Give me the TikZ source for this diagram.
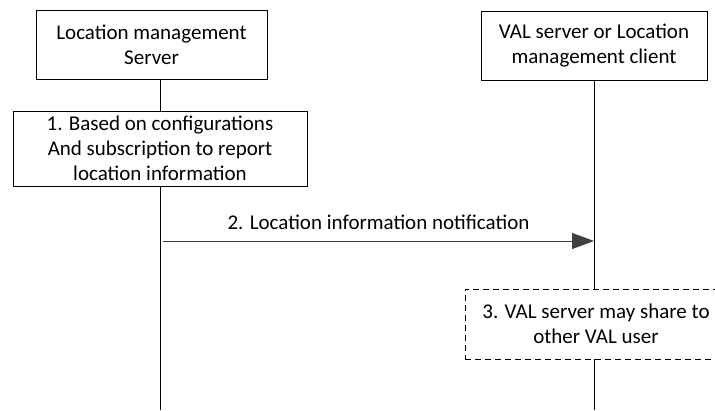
\documentclass[tikz,border=0pt]{standalone}
\usepackage{fontspec}
\setmainfont{Carlito}
\usetikzlibrary{positioning, arrows.meta}
\tikzset{
    x=1pt, y=-1pt, % one unit is one pixel of the reference, y runs down
    every node/.style={font=\fontsize{21}{25}\selectfont, align=center},
    entity/.style={draw, fill=white, minimum height=69pt, inner sep=0pt}, % the two parties on top
    action/.style={draw, fill=white, minimum height=75pt, inner sep=0pt}, % step box on a lifeline
    option/.style={draw, dashed, dash pattern=on 6pt off 4pt, fill=white, minimum height=70pt, inner sep=0pt}, % optional step
    lifeline/.style={draw, line width=0.9pt},
    msg/.style={draw=black!75, line width=0.9pt, -{Triangle[length=22pt, width=16pt]}}, % message arrow
}
\begin{document}
\begin{tikzpicture}
    \useasboundingbox (0,0) rectangle (715,410);
    \clip (0,0) rectangle (715,410);
    \node[entity, minimum width=231pt] (lms) at (151.5,44.5) {Location management\\Server};
    \node[entity, minimum width=226pt] (client) at (594,45.5) {VAL server or Location\\management client};
    \coordinate (lmsend) at (160,410);
    \coordinate (clientend) at (594,410);
    % lifelines
    \draw[lifeline] (lms.south -| lmsend) -- (lmsend);
    \draw[lifeline] (client.south) -- (clientend);
    \node[action, minimum width=294pt] (step1) at (160,148.5) {1. Based on configurations\\And subscription to report\\location information};
    \coordinate (msgstart) at (163,241);
    \coordinate (msgend) at (594,241);
    \draw[msg] (msgstart) -- (msgend) node[midway, above=11pt, inner sep=0pt, text=black] {2. Location information notification};
    \node[option, minimum width=262pt] (step3) at (596,324) {3. VAL server may share to\\other VAL user};
\end{tikzpicture}
\end{document}
